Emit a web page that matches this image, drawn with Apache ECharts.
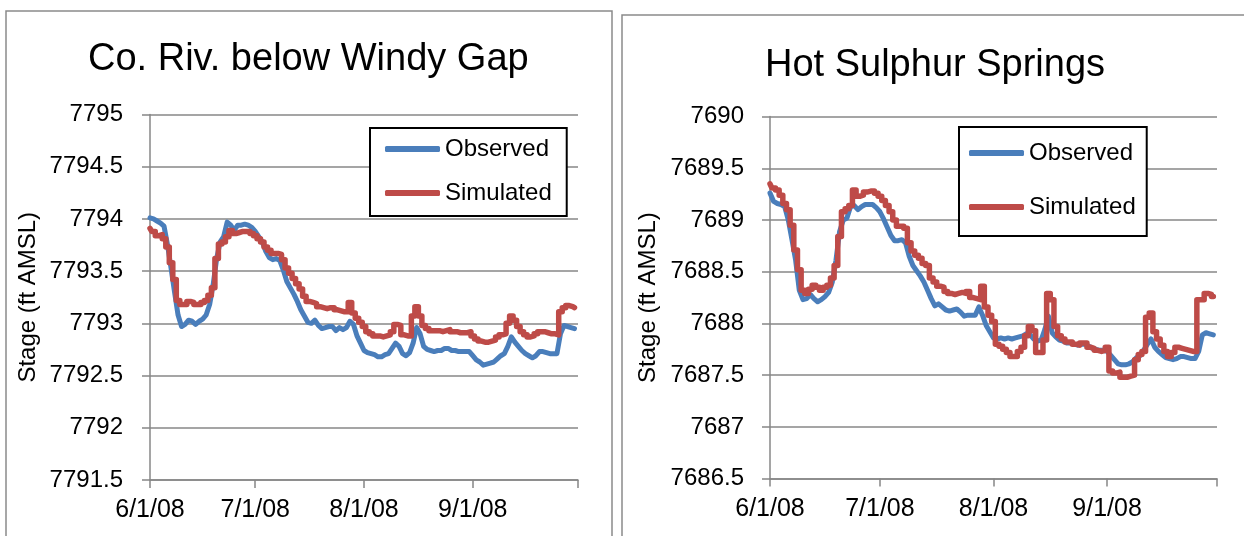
<!DOCTYPE html>
<html>
<head>
<meta charset="utf-8">
<script src="https://cdn.jsdelivr.net/npm/echarts@6/dist/echarts.min.js"></script>
<style>
html,body{margin:0;padding:0;background:#fff;}
#chart{width:1244px;height:536px;}
</style>
</head>
<body>
<div id="chart"></div>
<script>
// ---- Data ----
// x positions are day offsets from 6/1/08 (10/1/08 = day 122)
const startDate = Date.UTC(2008, 5, 1);
const dayMs = 86400000;
const xMin = 0, xMax = 122;
const tickDays = [0, 30, 61, 92, 122];      // 6/1, 7/1, 8/1, 9/1, 10/1
const labelDays = [0, 30, 61, 92];          // labelled ticks

const titles = ["Co. Riv. below Windy Gap", "Hot Sulphur Springs"];
const seriesNames = ["Observed", "Simulated"];
const yAxisName = "Stage (ft AMSL)";

const windyObserved = [
7794.01,7794.00,7793.98,7793.96,7793.93,7793.75,7793.53,7793.30,7793.08,7792.97,
7792.99,7793.03,7793.02,7792.99,7793.02,7793.04,7793.08,7793.18,7793.37,7793.62,
7793.78,7793.83,7793.97,7793.94,7793.89,7793.94,7793.94,7793.95,7793.94,7793.92,
7793.88,7793.83,7793.78,7793.69,7793.63,7793.61,7793.62,7793.60,7793.51,7793.40,
7793.34,7793.28,7793.21,7793.13,7793.07,7793.01,7793.00,7793.03,7792.98,7792.95,
7792.96,7792.97,7792.97,7792.93,7792.96,7792.94,7792.96,7793.02,7792.99,7792.88,
7792.81,7792.74,7792.72,7792.71,7792.70,7792.68,7792.68,7792.70,7792.71,7792.76,
7792.81,7792.78,7792.71,7792.69,7792.72,7792.81,7792.96,7792.90,7792.78,7792.75,
7792.74,7792.73,7792.74,7792.74,7792.76,7792.76,7792.74,7792.74,7792.73,7792.73,
7792.73,7792.73,7792.69,7792.65,7792.63,7792.60,7792.61,7792.62,7792.63,7792.66,
7792.69,7792.71,7792.78,7792.87,7792.82,7792.78,7792.74,7792.71,7792.69,7792.67,
7792.69,7792.73,7792.73,7792.72,7792.71,7792.71,7792.71,7792.90,7792.98,7792.97,
7792.96,7792.95];

const windySimulated = [
7793.91,7793.88,7793.84,7793.85,7793.81,7793.73,7793.58,7793.42,7793.22,7793.18,
7793.18,7793.21,7793.20,7793.18,7793.18,7793.20,7793.22,7793.27,7793.34,7793.62,
7793.76,7793.78,7793.83,7793.89,7793.86,7793.87,7793.88,7793.88,7793.88,7793.86,
7793.84,7793.81,7793.78,7793.73,7793.70,7793.67,7793.67,7793.66,7793.61,7793.53,
7793.48,7793.43,7793.38,7793.33,7793.26,7793.21,7793.20,7793.19,7793.16,7793.15,
7793.14,7793.15,7793.15,7793.13,7793.12,7793.11,7793.11,7793.20,7793.10,7793.05,
7793.01,7792.97,7792.92,7792.90,7792.88,7792.88,7792.87,7792.88,7792.89,7792.92,
7792.99,7792.98,7792.89,7792.88,7792.88,7793.07,7793.16,7793.07,7792.98,7792.95,
7792.93,7792.93,7792.93,7792.92,7792.93,7792.94,7792.92,7792.92,7792.91,7792.91,
7792.91,7792.92,7792.88,7792.85,7792.83,7792.82,7792.82,7792.83,7792.84,7792.87,
7792.89,7792.90,7793.00,7793.07,7793.03,7792.97,7792.92,7792.89,7792.87,7792.88,
7792.90,7792.92,7792.92,7792.91,7792.90,7792.90,7792.89,7793.11,7793.15,7793.17,
7793.16,7793.15];

const hotObserved = [
7689.26,7689.18,7689.16,7689.15,7689.13,7689.00,7688.81,7688.61,7688.32,7688.23,
7688.24,7688.28,7688.24,7688.21,7688.23,7688.26,7688.30,7688.40,7688.61,7688.89,
7689.00,7689.02,7689.13,7689.14,7689.10,7689.13,7689.15,7689.15,7689.15,7689.12,
7689.08,7689.01,7688.93,7688.85,7688.80,7688.80,7688.81,7688.78,7688.65,7688.56,
7688.51,7688.46,7688.40,7688.32,7688.24,7688.17,7688.19,7688.16,7688.13,7688.12,
7688.13,7688.14,7688.11,7688.07,7688.08,7688.08,7688.08,7688.16,7688.08,7687.98,
7687.92,7687.86,7687.85,7687.86,7687.85,7687.86,7687.85,7687.86,7687.87,7687.88,
7687.90,7687.89,7687.85,7687.83,7687.84,7687.94,7688.07,7687.91,7687.87,7687.84,
7687.83,7687.81,7687.81,7687.80,7687.79,7687.80,7687.80,7687.78,7687.76,7687.75,
7687.74,7687.74,7687.73,7687.69,7687.65,7687.61,7687.60,7687.60,7687.61,7687.63,
7687.67,7687.69,7687.74,7687.80,7687.85,7687.77,7687.73,7687.70,7687.67,7687.66,
7687.65,7687.66,7687.68,7687.68,7687.67,7687.66,7687.66,7687.73,7687.89,7687.91,
7687.90,7687.89];

const hotSimulated = [
7689.35,7689.31,7689.29,7689.24,7689.16,7689.10,7688.95,7688.71,7688.52,7688.32,
7688.29,7688.33,7688.37,7688.35,7688.32,7688.35,7688.37,7688.44,7688.56,7688.84,
7689.08,7689.11,7689.14,7689.29,7689.23,7689.24,7689.27,7689.28,7689.28,7689.26,
7689.23,7689.19,7689.14,7689.08,7689.00,7688.94,7688.94,7688.92,7688.78,7688.70,
7688.66,7688.63,7688.58,7688.56,7688.44,7688.40,7688.36,7688.35,7688.31,7688.29,
7688.28,7688.29,7688.30,7688.29,7688.31,7688.25,7688.24,7688.23,7688.36,7688.16,
7688.08,7688.02,7687.80,7687.78,7687.75,7687.72,7687.68,7687.68,7687.73,7687.77,
7687.88,7687.97,7687.93,7687.72,7687.72,7687.84,7688.29,7688.23,7687.97,7687.88,
7687.85,7687.82,7687.82,7687.80,7687.79,7687.81,7687.81,7687.77,7687.76,7687.74,
7687.73,7687.74,7687.77,7687.54,7687.52,7687.53,7687.48,7687.48,7687.49,7687.50,
7687.65,7687.70,7687.73,7688.06,7688.10,7687.92,7687.85,7687.79,7687.73,7687.68,
7687.72,7687.77,7687.76,7687.75,7687.74,7687.73,7687.73,7688.23,7688.23,7688.29,
7688.28,7688.26];

// ---- Build chart ----
const FONT = "'Liberation Sans', Arial, sans-serif";
const BLUE = '#4A7EBB';
const RED = '#BE4B48';
const GRID_GRAY = '#878787';

function pair(vals) { return vals.map((v, i) => [i, v]); }
function fmtDay(v) {
  const d = new Date(startDate + Math.round(v) * dayMs);
  const yy = String(d.getUTCFullYear() % 100).padStart(2, '0');
  return (d.getUTCMonth() + 1) + '/' + d.getUTCDate() + '/' + yy;
}
function fmtStage(v) { return String(Math.round(v * 10) / 10); }

function xAxis(gridIndex) {
  return {
    type: 'value', gridIndex, min: xMin, max: xMax,
    axisLine: { show: true, onZero: false, lineStyle: { color: GRID_GRAY, width: 1.5 } },
    axisTick: { show: true, length: 8, lineStyle: { color: GRID_GRAY, width: 1.5 }, customValues: tickDays },
    axisLabel: { color: '#000', fontSize: 25, fontFamily: FONT, margin: 18, customValues: labelDays, formatter: fmtDay, hideOverlap: false },
    splitLine: { show: false }
  };
}
function yAxis(gridIndex, min, max, nameGap, labelMargin) {
  return {
    type: 'value', gridIndex, min, max, interval: 0.5,
    name: yAxisName, nameLocation: 'middle', nameRotate: 90, nameGap,
    nameTextStyle: { color: '#000', fontSize: 24, fontFamily: FONT },
    axisLine: { show: true, onZero: false, lineStyle: { color: GRID_GRAY, width: 1.5 } },
    axisTick: { show: true, length: 8, lineStyle: { color: GRID_GRAY, width: 1.5 } },
    axisLabel: { color: '#000', fontSize: 24, fontFamily: FONT, margin: labelMargin, formatter: fmtStage },
    splitLine: { show: true, lineStyle: { color: GRID_GRAY, width: 1.5 } }
  };
}
function lineSeries(name, color, vals, axisIdx, step, width) {
  return {
    name, type: 'line', xAxisIndex: axisIdx, yAxisIndex: axisIdx,
    data: pair(vals), showSymbol: false, symbol: 'none', step: step || false,
    lineStyle: { color, width, cap: 'round', join: 'round' },
    itemStyle: { color }, animation: false, silent: true
  };
}
function legend(left, top, padding, itemGap) {
  return {
    data: seriesNames, orient: 'vertical', left, top, padding, itemGap,
    icon: 'roundRect', itemWidth: 55, itemHeight: 6,
    borderColor: '#000', borderWidth: 2, backgroundColor: '#fff',
    textStyle: { color: '#000', fontSize: 24, fontFamily: FONT },
    selectedMode: false
  };
}

const chart = echarts.init(document.getElementById('chart'), null, { renderer: 'canvas' });
chart.setOption({
  animation: false,
  backgroundColor: '#fff',
  graphic: [
    { type: 'rect', shape: { x: 6, y: 11, width: 606, height: 540 }, style: { fill: 'none', stroke: '#8a8a8a', lineWidth: 1.5 }, z: -10, silent: true },
    { type: 'rect', shape: { x: 622, y: 15, width: 640, height: 540 }, style: { fill: 'none', stroke: '#8a8a8a', lineWidth: 1.5 }, z: -10, silent: true }
  ],
  title: [
    { text: titles[0], left: 88, top: 41, padding: 0, textStyle: { color: '#000', fontSize: 38, fontWeight: 'normal', fontFamily: FONT } },
    { text: titles[1], left: 765, top: 47, padding: 0, textStyle: { color: '#000', fontSize: 38, fontWeight: 'normal', fontFamily: FONT } }
  ],
  legend: [
    legend(370, 128, [9, 15, 11, 15], 20),
    legend(959, 127, [14, 11, 17, 10], 30)
  ],
  grid: [
    { left: 150, top: 114.5, width: 428, height: 365.5, containLabel: false },
    { left: 770, top: 116.6, width: 447, height: 362, containLabel: false }
  ],
  xAxis: [xAxis(0), xAxis(1)],
  yAxis: [yAxis(0, 7791.5, 7795, 110, 27), yAxis(1, 7686.5, 7690, 110, 26)],
  series: [
    lineSeries(seriesNames[0], BLUE, windyObserved, 0, false, 5),
    lineSeries(seriesNames[1], RED, windySimulated, 0, 'middle', 5.5),
    lineSeries(seriesNames[0], BLUE, hotObserved, 1, false, 5),
    lineSeries(seriesNames[1], RED, hotSimulated, 1, 'middle', 5.5)
  ]
});
</script>
</body>
</html>
